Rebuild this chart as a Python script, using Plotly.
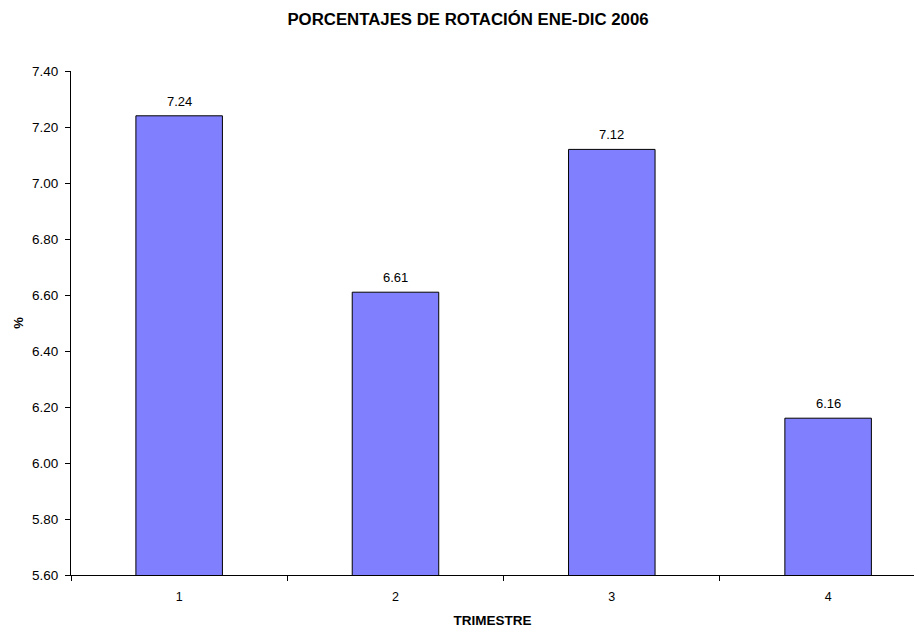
import plotly.graph_objects as go

# Quarterly turnover percentages, Jan-Dec 2006
trimestres = ["1", "2", "3", "4"]
rotacion = [7.24, 6.61, 7.12, 6.16]
y_ticks = [5.60, 5.80, 6.00, 6.20, 6.40, 6.60, 6.80, 7.00, 7.20, 7.40]

FONT = "Liberation Sans, Arial, sans-serif"

fig = go.Figure(
    go.Bar(
        x=trimestres,
        y=rotacion,
        width=0.4,
        marker=dict(color="#8080FF", line=dict(color="#000000", width=1)),
        cliponaxis=False,
    )
)

# value labels above each bar (category axes place annotations by index)
for idx, val in enumerate(rotacion):
    fig.add_annotation(
        x=idx,
        y=val,
        xref="x",
        yref="y",
        text=f"{val:.2f}",
        showarrow=False,
        yanchor="bottom",
        yshift=5,
        font=dict(family=FONT, size=13, color="#000000"),
    )

fig.update_layout(
    width=914,
    height=630,
    margin=dict(l=71, r=0, t=71, b=55),
    paper_bgcolor="white",
    plot_bgcolor="white",
    showlegend=False,
    font=dict(family=FONT, size=12, color="#000000"),
    title=dict(
        text="<b>PORCENTAJES DE ROTACIÓN ENE-DIC 2006</b>",
        x=(468 - 71) / 843,
        xanchor="center",
        xref="paper",
        y=1 - 19 / 630,
        yref="container",
        yanchor="middle",
        font=dict(family=FONT, size=16.8, color="#000000"),
    ),
)

fig.update_xaxes(
    type="category",
    range=[-0.5, 3.397],
    tickson="boundaries",
    ticks="outside",
    ticklen=5,
    tickcolor="#000000",
    showline=True,
    linecolor="#000000",
    linewidth=1,
    showgrid=False,
    ticklabelstandoff=10,
    tickfont=dict(family=FONT, size=12.5),
    title=dict(text="<b>TRIMESTRE</b>", font=dict(family=FONT, size=13.5), standoff=12),
)

fig.update_yaxes(
    range=[5.60, 7.40],
    tickvals=y_ticks,
    ticktext=[f"{v:.2f}" for v in y_ticks],
    ticks="outside",
    ticklen=5,
    tickcolor="#000000",
    showline=True,
    linecolor="#000000",
    linewidth=1,
    showgrid=False,
    zeroline=False,
    ticklabelstandoff=4,
    tickfont=dict(family=FONT, size=13.5),
    title=dict(text="<b>%</b>", font=dict(family=FONT, size=13), standoff=5),
)

fig.write_html("out.html")
